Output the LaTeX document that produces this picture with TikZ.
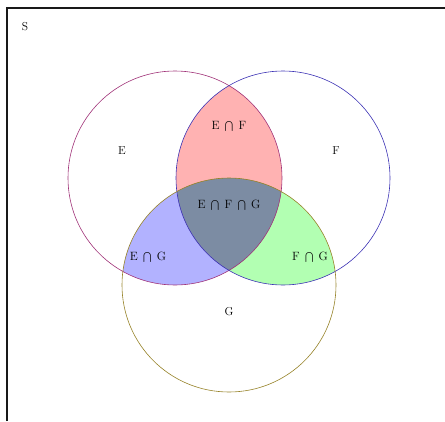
\documentclass[tikz,border=0pt]{standalone}
\newcommand{\cp}{\;\bigcap\;}
\begin{document}
\begin{tikzpicture}[x=1pt,y=-1pt,
  lbl/.style={font=\fontsize{11.5}{13}\selectfont, inner sep=1pt},
  ringE/.style={draw={rgb,255:red,160;green,50;blue,120}, line width=0.6pt},
  ringF/.style={draw={rgb,255:red,60;green,50;blue,180}, line width=0.6pt},
  ringG/.style={draw={rgb,255:red,150;green,130;blue,40}, line width=0.6pt},
  frame/.style={draw=black!90, line width=1.1pt}]
\useasboundingbox (0,0) rectangle (445,421);
\coordinate (cE) at (175,178);
\coordinate (cF) at (283,178);
\coordinate (cG) at (229,285);
\def\rr{107}
% pairwise intersections
\begin{scope}
  \clip (cE) circle (\rr);
  \fill[red, opacity=0.3] (cF) circle (\rr);
\end{scope}
\begin{scope}
  \clip (cF) circle (\rr);
  \fill[green, opacity=0.3] (cG) circle (\rr);
\end{scope}
\begin{scope}
  \clip (cE) circle (\rr);
  \fill[blue, opacity=0.3] (cG) circle (\rr);
\end{scope}
\draw[ringE] (cE) circle (\rr);
\draw[ringF] (cF) circle (\rr);
\draw[ringG] (cG) circle (\rr);
% frame
\coordinate (fa) at (7,421);
\coordinate (fb) at (7,8);
\coordinate (fc) at (445,8);
\draw[frame] (fa) -- (fb) -- (fc);
% labels
\node[lbl] (S) at (25,27) {S};
\node[lbl] (E) at (122,151) {E};
\node[lbl] (F) at (336,151) {F};
\node[lbl] (G) at (229,312) {G};
\node[lbl] (EF) at (229,126) {$\mathrm{E}\cp\mathrm{F}$};
\node[lbl] (EFG) at (229,205) {$\mathrm{E}\cp\mathrm{F}\cp\mathrm{G}$};
\node[lbl] (EG) at (148,257) {$\mathrm{E}\cp\mathrm{G}$};
\node[lbl] (FG) at (310,257) {$\mathrm{F}\cp\mathrm{G}$};
\end{tikzpicture}
\end{document}
